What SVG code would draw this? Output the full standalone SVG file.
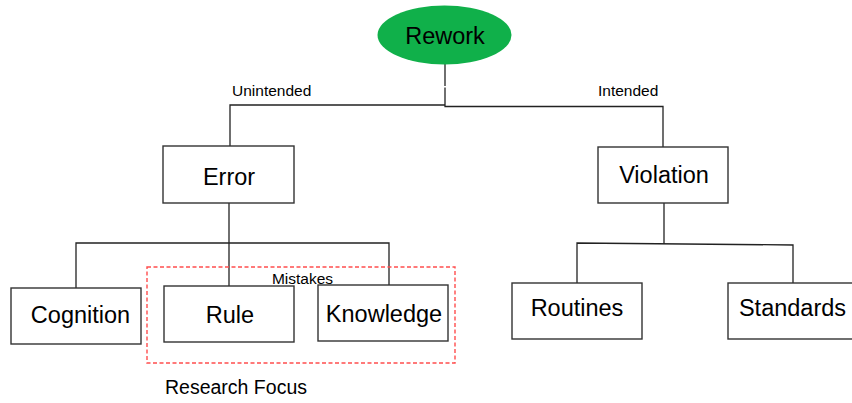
<svg xmlns="http://www.w3.org/2000/svg" width="852" height="403" viewBox="0 0 852 403">
<style>
.box{fill:#fff;stroke:#333;stroke-width:1.4}
.ln{fill:none;stroke:#222;stroke-width:1.3}
.big{font-family:"Liberation Sans",Arial,sans-serif;font-size:23.5px;fill:#000;text-anchor:middle}
.sm{font-family:"Liberation Sans",Arial,sans-serif;font-size:15.5px;fill:#000}
</style>
<rect width="852" height="403" fill="#fff"/>
<g id="connectors">
<polyline class="ln" points="445,64 445,86"/>
<polyline class="ln" points="445,87.5 445,105"/>
<polyline class="ln" points="230,147 230,105 445,105"/>
<polyline class="ln" points="445,105 445,106.5 663,106.5 663,147"/>
<polyline class="ln" points="229,203 229,286"/>
<polyline class="ln" points="76,288 76,243 389,243 389,287"/>
<polyline class="ln" points="664,203 664,244"/>
<polyline class="ln" points="577,283 577,243 793,245 793,284"/>
</g>
<g id="rework">
<ellipse cx="444.5" cy="35" rx="67" ry="29.5" fill="#10b04a"/>
<text class="big" x="445" y="44">Rework</text>
</g>
<g id="label-unintended"><text class="sm" x="232" y="96">Unintended</text></g>
<g id="label-intended"><text class="sm" x="598" y="96">Intended</text></g>
<g id="error">
<rect class="box" x="163" y="146" width="131" height="57"/>
<text class="big" x="229" y="185">Error</text>
</g>
<g id="violation">
<rect class="box" x="598" y="147" width="130" height="56"/>
<text class="big" x="664" y="183">Violation</text>
</g>
<g id="research-focus">
<rect x="147" y="267" width="308" height="96" fill="none" stroke="#ff4d4d" stroke-width="1.4" stroke-dasharray="4,2.5"/>
<text class="sm" x="302.5" y="284" text-anchor="middle">Mistakes</text>
<text class="sm" x="165" y="394" style="font-size:19.5px">Research Focus</text>
</g>
<g id="cognition">
<rect class="box" x="11" y="288" width="130" height="56"/>
<text class="big" x="80.5" y="323">Cognition</text>
</g>
<g id="rule">
<rect class="box" x="164" y="286" width="130" height="56"/>
<text class="big" x="230" y="323">Rule</text>
</g>
<g id="knowledge">
<rect class="box" x="318" y="285" width="130" height="56"/>
<text class="big" x="384" y="322">Knowledge</text>
</g>
<g id="routines">
<rect class="box" x="512" y="283" width="130" height="56"/>
<text class="big" x="577" y="316">Routines</text>
</g>
<g id="standards">
<rect class="box" x="728" y="283" width="132" height="56"/>
<text class="big" x="792.5" y="316">Standards</text>
</g>
</svg>
